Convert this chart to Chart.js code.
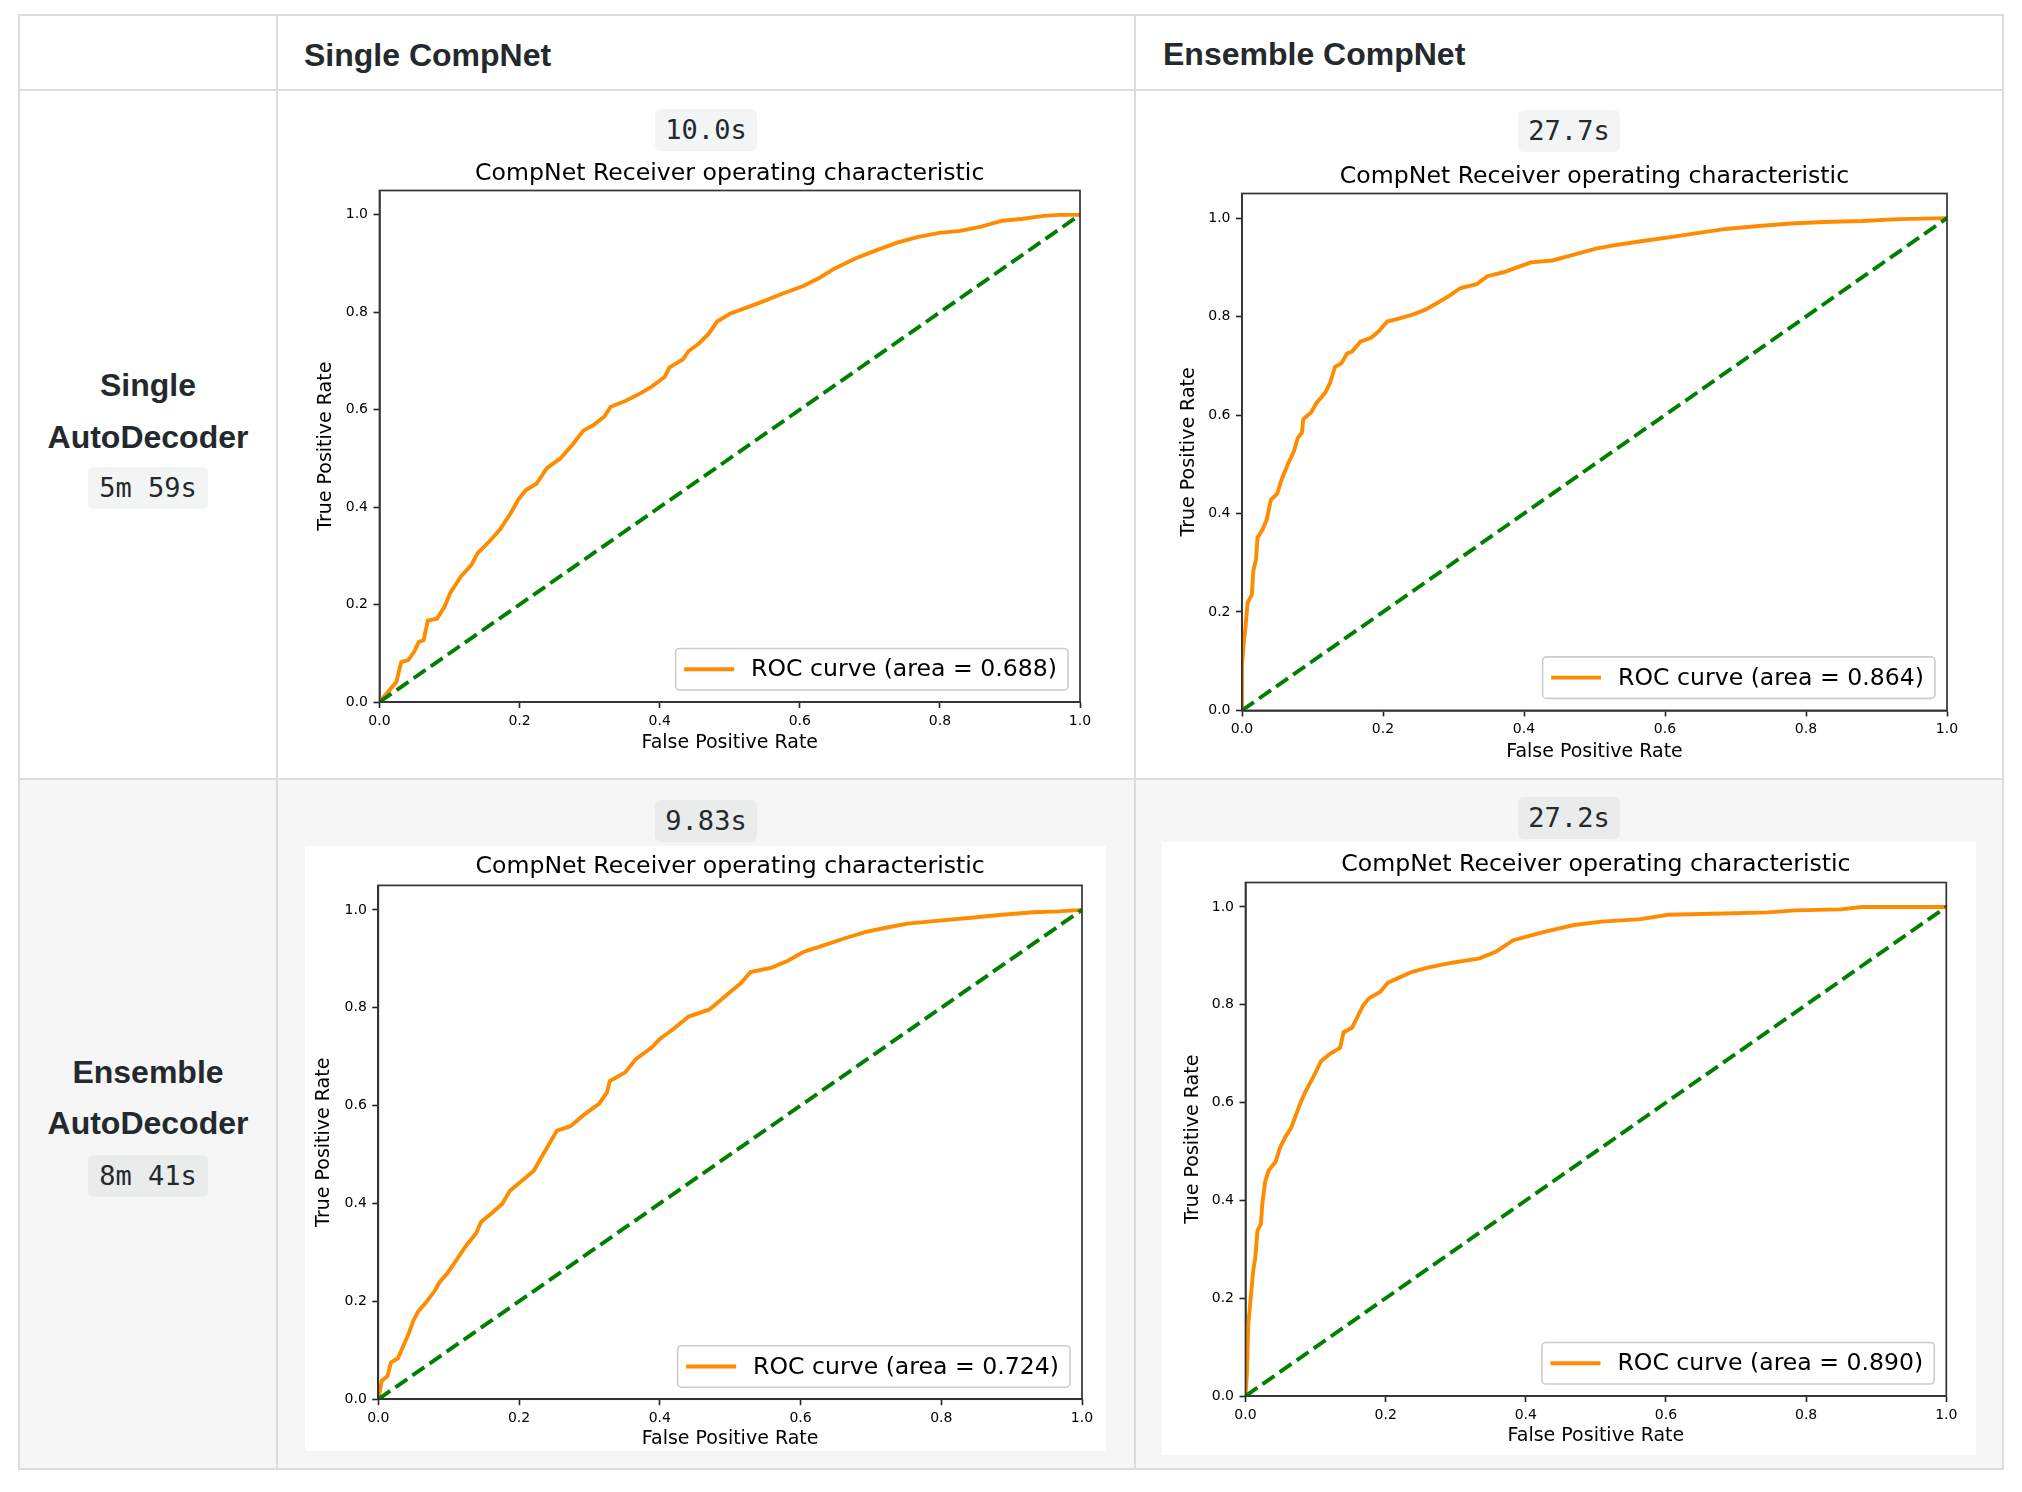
<!DOCTYPE html>
<html>
<head>
<meta charset="utf-8">
<script src="https://cdn.jsdelivr.net/npm/chart.js@4.4.1/dist/chart.umd.min.js"></script>
<style>
html,body{margin:0;padding:0;background:#fff;}
body{width:2022px;height:1492px;position:relative;overflow:hidden;font-family:"Liberation Sans",Arial,sans-serif;color:#24292e;}
.hl{position:absolute;background:#dcdcdc;height:2px;}
.vl{position:absolute;background:#dcdcdc;width:2px;}
.th{position:absolute;font-weight:bold;font-size:32px;line-height:40px;white-space:nowrap;}
.rl{left:19px;width:258px;text-align:center;}
.badge{position:absolute;font-family:"DejaVu Sans Mono",monospace;font-size:27px;background:rgba(27,31,35,0.05);border-radius:6px;text-align:center;line-height:42px;height:42px;color:#24292e;}
canvas{position:absolute;background:#fff;}
</style>
</head>
<body>
<div style="position:absolute;left:19px;top:780px;width:1983px;height:688px;background:#f6f6f6;"></div>

<div class="hl" style="left:18px;top:14px;width:1986px;"></div>
<div class="hl" style="left:18px;top:89px;width:1986px;"></div>
<div class="hl" style="left:18px;top:778px;width:1986px;"></div>
<div class="hl" style="left:18px;top:1468px;width:1986px;"></div>
<div class="vl" style="left:18px;top:14px;height:1456px;"></div>
<div class="vl" style="left:276px;top:14px;height:1456px;"></div>
<div class="vl" style="left:1134px;top:14px;height:1456px;"></div>
<div class="vl" style="left:2002px;top:14px;height:1456px;"></div>

<div class="th" style="left:304px;top:35px;">Single CompNet</div>
<div class="th" style="left:1163px;top:34px;">Ensemble CompNet</div>

<div class="th rl" style="top:365px;">Single</div>
<div class="th rl" style="top:417px;">AutoDecoder</div>
<div class="badge" style="left:88px;top:467px;width:120px;">5m 59s</div>

<div class="th rl" style="top:1052px;">Ensemble</div>
<div class="th rl" style="top:1103px;">AutoDecoder</div>
<div class="badge" style="left:88px;top:1155px;width:120px;">8m 41s</div>

<div class="badge" style="left:655px;top:109px;width:102px;">10.0s</div>
<div class="badge" style="left:1518px;top:110px;width:102px;">27.7s</div>
<div class="badge" style="left:655px;top:800px;width:102px;">9.83s</div>
<div class="badge" style="left:1518px;top:797px;width:102px;">27.2s</div>

<script>
// ---- data ----
const tickValues = [0.0, 0.2, 0.4, 0.6, 0.8, 1.0];
const chanceFpr = [0, 1];
const chanceTpr = [0, 1];

// Single AutoDecoder / Single CompNet
const fprA = [0,0.017,0.024,0.031,0.041,0.049,0.056,0.063,0.069,0.082,0.093,0.101,0.116,0.131,0.140,0.157,0.172,0.187,0.198,0.209,0.224,0.239,0.258,0.276,0.291,0.306,0.321,0.330,0.351,0.373,0.388,0.407,0.414,0.433,0.441,0.456,0.470,0.482,0.500,0.523,0.545,0.575,0.605,0.627,0.650,0.680,0.709,0.739,0.769,0.799,0.829,0.859,0.889,0.919,0.948,0.971,1.0];
const tprA = [0,0.029,0.041,0.082,0.086,0.102,0.123,0.127,0.167,0.171,0.196,0.224,0.257,0.281,0.305,0.330,0.354,0.387,0.415,0.435,0.448,0.480,0.500,0.529,0.557,0.569,0.586,0.606,0.618,0.634,0.647,0.667,0.687,0.703,0.720,0.736,0.756,0.781,0.797,0.809,0.821,0.838,0.854,0.870,0.890,0.911,0.927,0.943,0.955,0.963,0.967,0.976,0.988,0.992,0.998,1.0,1.0];

// Single AutoDecoder / Ensemble CompNet
const fprB = [0,0,0.002,0.005,0.008,0.014,0.016,0.020,0.022,0.029,0.035,0.041,0.050,0.056,0.065,0.074,0.079,0.085,0.087,0.098,0.106,0.118,0.125,0.132,0.141,0.149,0.156,0.168,0.183,0.194,0.206,0.225,0.244,0.260,0.275,0.294,0.310,0.333,0.348,0.371,0.394,0.410,0.440,0.471,0.502,0.533,0.571,0.610,0.648,0.686,0.733,0.779,0.825,0.879,0.932,1.0];
const tprB = [0,0.09,0.13,0.17,0.219,0.235,0.283,0.307,0.351,0.367,0.387,0.428,0.440,0.468,0.500,0.528,0.553,0.564,0.592,0.605,0.625,0.645,0.666,0.698,0.705,0.725,0.729,0.749,0.757,0.770,0.790,0.797,0.805,0.814,0.826,0.842,0.858,0.866,0.882,0.890,0.902,0.910,0.914,0.926,0.938,0.946,0.954,0.962,0.970,0.978,0.984,0.989,0.992,0.994,0.998,1.0];

// Ensemble AutoDecoder / Single CompNet
const fprC = [0,0.005,0.013,0.018,0.028,0.035,0.042,0.050,0.057,0.068,0.080,0.087,0.098,0.109,0.124,0.139,0.146,0.161,0.176,0.187,0.202,0.221,0.232,0.243,0.254,0.273,0.292,0.314,0.325,0.329,0.351,0.366,0.388,0.400,0.418,0.441,0.470,0.485,0.500,0.515,0.529,0.559,0.582,0.604,0.634,0.663,0.693,0.723,0.752,0.797,0.842,0.886,0.931,0.968,1.0];
const tprC = [0,0.038,0.047,0.075,0.084,0.107,0.130,0.161,0.180,0.198,0.221,0.239,0.257,0.280,0.312,0.339,0.362,0.380,0.399,0.426,0.444,0.467,0.495,0.522,0.549,0.558,0.581,0.604,0.627,0.650,0.668,0.695,0.718,0.736,0.755,0.782,0.796,0.814,0.832,0.850,0.873,0.882,0.896,0.914,0.928,0.942,0.955,0.964,0.972,0.978,0.984,0.990,0.995,0.997,1.0];

// Ensemble AutoDecoder / Ensemble CompNet
const fprD = [0,0.002,0.004,0.008,0.011,0.014,0.017,0.022,0.024,0.028,0.033,0.043,0.049,0.057,0.065,0.071,0.077,0.085,0.097,0.108,0.120,0.135,0.140,0.152,0.160,0.168,0.176,0.192,0.203,0.223,0.239,0.263,0.295,0.334,0.358,0.382,0.405,0.429,0.469,0.508,0.564,0.603,0.667,0.746,0.785,0.849,0.880,1.0];
const tprD = [0,0.046,0.146,0.210,0.256,0.283,0.338,0.352,0.393,0.438,0.461,0.479,0.507,0.530,0.548,0.571,0.594,0.621,0.653,0.685,0.699,0.712,0.744,0.753,0.776,0.799,0.813,0.826,0.845,0.858,0.868,0.877,0.886,0.895,0.909,0.932,0.941,0.950,0.963,0.970,0.975,0.984,0.986,0.989,0.993,0.995,1.0,1.0];

const aucValues = [0.688, 0.864, 0.724, 0.890];
const chartTitle = 'CompNet Receiver operating characteristic';
const xAxisTitle = 'False Positive Rate';
const yAxisTitle = 'True Positive Rate';

// ---- layout (page pixels) ----
const panels = [
  {fpr: fprA, tpr: tprA, auc: aucValues[0], box:{x:305,y:153,w:801,h:605}, plot:{l:379.5,t:190.5,r:1080,b:702}, titleY:174, xTitleY:743, yTitleX:326},
  {fpr: fprB, tpr: tprB, auc: aucValues[1], box:{x:1162,y:156,w:814,h:615}, plot:{l:1242,t:193.5,r:1947,b:710.4}, titleY:176.6, xTitleY:752, yTitleX:1189.5},
  {fpr: fprC, tpr: tprC, auc: aucValues[2], box:{x:305,y:846,w:801,h:605}, plot:{l:378.3,t:885.4,r:1082,b:1399.2}, titleY:867, xTitleY:1439.4, yTitleX:324.5},
  {fpr: fprD, tpr: tprD, auc: aucValues[3], box:{x:1162,y:842,w:814,h:613}, plot:{l:1245.5,t:882.5,r:1946.3,b:1396}, titleY:864.8, xTitleY:1436, yTitleX:1192.7}
];

const framePlugin = {
  id: 'frame',
  afterDatasetsDraw(chart) {
    const {ctx, chartArea: a} = chart;
    ctx.save();
    ctx.strokeStyle = '#333';
    ctx.lineWidth = 1.7;
    ctx.strokeRect(a.left, a.top, a.right - a.left, a.bottom - a.top);
    ctx.restore();
  }
};

const legendPlugin = {
  id: 'rocLegend',
  afterDraw(chart) {
    const ds = chart.data.datasets[0];
    const {ctx, chartArea: a} = chart;
    ctx.save();
    ctx.font = '23.6px "DejaVu Sans"';
    const tw = ctx.measureText(ds.label).width;
    const h = 41.5, w = 8.5 + 50 + 17 + tw + 11;
    const x = a.right - 12 - w, y = a.bottom - 12 - h;
    ctx.beginPath();
    ctx.roundRect(x, y, w, h, 4);
    ctx.fillStyle = 'rgba(255,255,255,0.8)';
    ctx.fill();
    ctx.strokeStyle = '#cccccc';
    ctx.lineWidth = 1.6;
    ctx.stroke();
    ctx.beginPath();
    ctx.moveTo(x + 8.5, y + h / 2);
    ctx.lineTo(x + 58.5, y + h / 2);
    ctx.strokeStyle = ds.borderColor;
    ctx.lineWidth = ds.borderWidth;
    ctx.stroke();
    ctx.fillStyle = '#000';
    ctx.textBaseline = 'middle';
    ctx.textAlign = 'left';
    ctx.fillText(ds.label, x + 75.5, y + h / 2 + 1);
    ctx.restore();
  }
};

const tickFont = {family: 'DejaVu Sans', size: 14};
const fmt = v => Number(v).toFixed(1);

panels.forEach(p => {
  const c = document.createElement('canvas');
  c.width = p.box.w; c.height = p.box.h;
  c.style.left = p.box.x + 'px'; c.style.top = p.box.y + 'px';
  c.style.width = p.box.w + 'px'; c.style.height = p.box.h + 'px';
  document.body.appendChild(c);

  const titleSize = 23.6;
  const titleLH = titleSize * 1.2;
  const tPadTop = p.titleY - p.box.y - titleLH / 2;
  const tPadBottom = p.plot.t - p.box.y - titleLH - tPadTop;
  const axLH = 19 * 1.2;
  const yAxisW = p.plot.l - p.box.x;
  const xAxisH = p.box.y + p.box.h - p.plot.b;
  const yTitlePad = p.yTitleX - p.box.x - axLH / 2;
  const xTitlePad = p.box.y + p.box.h - p.xTitleY - axLH / 2;

  new Chart(c.getContext('2d'), {
    type: 'line',
    data: {
      datasets: [
        {
          label: 'ROC curve (area = ' + p.auc.toFixed(3) + ')',
          data: p.fpr.map((x, i) => ({x: x, y: p.tpr[i]})),
          borderColor: '#ff8c00', borderWidth: 3.9, pointRadius: 0,
          tension: 0, fill: false, order: 1
        },
        {
          label: 'chance',
          data: chanceFpr.map((x, i) => ({x: x, y: chanceTpr[i]})),
          borderColor: '#008000', borderWidth: 3.9, borderDash: [14.5, 6.3],
          pointRadius: 0, tension: 0, fill: false, order: 0
        }
      ]
    },
    options: {
      responsive: false, animation: false, devicePixelRatio: 1,
      layout: {padding: {left: 0, top: 0, bottom: 0, right: p.box.x + p.box.w - p.plot.r}},
      plugins: {
        legend: {display: false},
        tooltip: {enabled: false},
        title: {
          display: true, text: chartTitle, fullSize: false, color: '#000',
          font: {family: 'DejaVu Sans', size: titleSize, weight: 'normal', lineHeight: 1.2},
          padding: {top: tPadTop, bottom: tPadBottom}
        }
      },
      scales: {
        x: {
          type: 'linear', position: 'bottom', min: 0, max: 1,
          afterFit: s => { s.height = xAxisH; },
          afterBuildTicks: s => { s.ticks = tickValues.map(v => ({value: v})); },
          ticks: {callback: fmt, font: tickFont, color: '#000', padding: 5, maxRotation: 0, autoSkip: false},
          grid: {display: true, drawOnChartArea: false, drawTicks: true, tickLength: 6, tickWidth: 1.6, tickColor: '#222'},
          border: {display: true, color: '#333', width: 1.7},
          title: {display: true, text: xAxisTitle, color: '#000', font: {family: 'DejaVu Sans', size: 19, lineHeight: 1.2}, padding: {top: 0, bottom: xTitlePad}}
        },
        y: {
          type: 'linear', position: 'left', min: 0, max: 1.05,
          afterFit: s => { s.width = yAxisW; },
          afterBuildTicks: s => { s.ticks = tickValues.map(v => ({value: v})); },
          ticks: {callback: fmt, font: tickFont, color: '#000', padding: 5.5, autoSkip: false},
          grid: {display: true, drawOnChartArea: false, drawTicks: true, tickLength: 6, tickWidth: 1.6, tickColor: '#222'},
          border: {display: true, color: '#333', width: 1.7},
          title: {display: true, text: yAxisTitle, color: '#000', font: {family: 'DejaVu Sans', size: 19, lineHeight: 1.2}, padding: {top: yTitlePad, bottom: 0}}
        }
      }
    },
    plugins: [framePlugin, legendPlugin]
  });
});
</script>
</body>
</html>
